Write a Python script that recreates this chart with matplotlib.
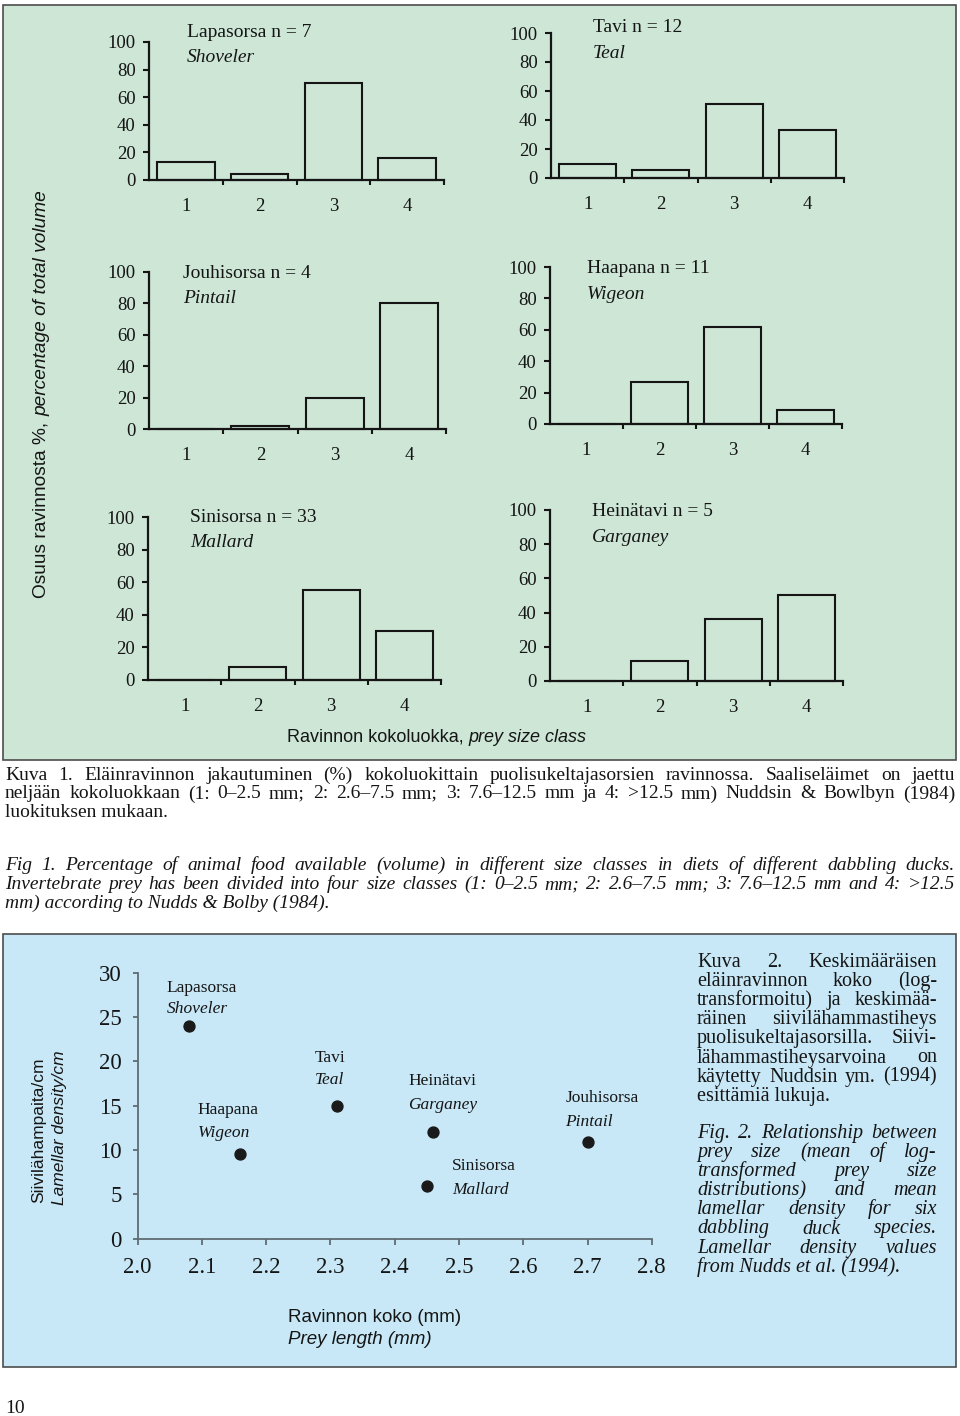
import matplotlib.pyplot as plt
from matplotlib.patches import Rectangle

plt.rcParams['font.family'] = ['Liberation Serif', 'DejaVu Serif']

W, H = 960, 1416

# Fig 1: share of animal food volume (%) in each prey size class
size_classes = [1, 2, 3, 4]
names_fi = ['Lapasorsa', 'Tavi', 'Jouhisorsa', 'Haapana', 'Sinisorsa', 'Heinätavi']
names_en = ['Shoveler', 'Teal', 'Pintail', 'Wigeon', 'Mallard', 'Garganey']
n_birds = [7, 12, 4, 11, 33, 5]
shoveler = [13, 4, 70, 16]
teal = [9.5, 5.5, 51, 33]
pintail = [0, 2, 19.5, 80]
wigeon = [0, 27, 61.5, 9]
mallard = [0, 8, 55, 30]
garganey = [0, 11.5, 36, 50]
volumes = [shoveler, teal, pintail, wigeon, mallard, garganey]

# Fig 2: mean prey size vs lamellar density
dot_fi = ['Lapasorsa', 'Haapana', 'Tavi', 'Heinätavi', 'Sinisorsa', 'Jouhisorsa']
dot_en = ['Shoveler', 'Wigeon', 'Teal', 'Garganey', 'Mallard', 'Pintail']
prey_size = [2.08, 2.16, 2.31, 2.46, 2.45, 2.70]
lamellar_density = [24.0, 9.5, 15.0, 12.0, 5.9, 10.9]
x_ticks = [2.0, 2.1, 2.2, 2.3, 2.4, 2.5, 2.6, 2.7, 2.8]
y_ticks = [0, 5, 10, 15, 20, 25, 30]

caption1_fi = [
    "Kuva 1. Eläinravinnon jakautuminen (%) kokoluokittain puolisukeltajasorsien ravinnossa. Saaliseläimet on jaettu",
    "neljään kokoluokkaan (1: 0–2.5 mm; 2: 2.6–7.5 mm; 3: 7.6–12.5 mm ja 4: >12.5 mm) Nuddsin & Bowlbyn (1984)",
    "luokituksen mukaan.",
]
caption1_en = [
    "Fig 1. Percentage of animal food available (volume) in different size classes in diets of different dabbling ducks.",
    "Invertebrate prey has been divided into four size classes (1: 0–2.5 mm; 2: 2.6–7.5 mm; 3: 7.6–12.5 mm and 4: >12.5",
    "mm) according to Nudds & Bolby (1984).",
]
caption2_fi = [
    "Kuva 2. Keskimääräisen",
    "eläinravinnon koko (log-",
    "transformoitu) ja keskimää-",
    "räinen siivilähammastiheys",
    "puolisukeltajasorsilla. Siivi-",
    "lähammastiheysarvoina on",
    "käytetty Nuddsin ym. (1994)",
    "esittämiä lukuja.",
]
caption2_en = [
    "Fig. 2. Relationship between",
    "prey size (mean of log-",
    "transformed prey size",
    "distributions) and mean",
    "lamellar density for six",
    "dabbling duck species.",
    "Lamellar density values",
    "from Nudds et al. (1994).",
]

GREEN = '#cde6d6'
BLUE = '#c8e8f7'
INK = '#151515'

fig = plt.figure(figsize=(W / 100, H / 100), dpi=100)
renderer = fig.canvas.get_renderer()


def fx(x):
    return x / W


def fy(y):
    return 1 - y / H


def add_axes_px(left, right, top, bottom):
    return fig.add_axes([fx(left), fy(bottom), (right - left) / W, (bottom - top) / H])


def extent(t):
    return t.get_window_extent(renderer)


def space_width(size, family):
    a = fig.text(0, 0, 'a a', fontsize=size, family=family)
    b = fig.text(0, 0, 'aa', fontsize=size, family=family)
    w = extent(a).width - extent(b).width
    a.remove()
    b.remove()
    return w


def run_h(parts, x, y, size, family):
    sw = space_width(size, family)
    for s, style in parts:
        t = fig.text(fx(x), fy(y), s, fontsize=size, family=family, style=style,
                     va='baseline', ha='left', color=INK)
        x += extent(t).width + sw


def run_v(parts, x, y, size, family):
    sw = space_width(size, family)
    for s, style in parts:
        t = fig.text(fx(x), fy(y), s, fontsize=size, family=family, style=style,
                     rotation=90, rotation_mode='anchor', ha='left', va='baseline', color=INK)
        y -= extent(t).height + sw


def justified(lines, x0, x1, y0, step, size, style='normal', family='Liberation Serif'):
    for i, line in enumerate(lines):
        y = y0 + i * step
        if i == len(lines) - 1:
            fig.text(fx(x0), fy(y), line, fontsize=size, style=style, family=family,
                     va='baseline', color=INK)
            continue
        words = line.split()
        arts = [fig.text(0, fy(y), w, fontsize=size, style=style, family=family,
                         va='baseline', color=INK) for w in words]
        widths = [extent(a).width for a in arts]
        gap = (x1 - x0 - sum(widths)) / (len(words) - 1)
        x = x0
        for a, w in zip(arts, widths):
            a.set_x(fx(x))
            x += w + gap


# panel backgrounds
fig.add_artist(Rectangle((fx(3), fy(760)), 953 / W, 755 / H, transform=fig.transFigure,
                         facecolor=GREEN, edgecolor='#4d4d4d', linewidth=1.2, zorder=-2))
fig.add_artist(Rectangle((fx(3), fy(1367)), 953 / W, 433 / H, transform=fig.transFigure,
                         facecolor=BLUE, edgecolor='#4d4d4d', linewidth=1.2, zorder=-2))

# ---- Fig 1 bar panels
panel_box = [(149, 444, 42, 180), (551, 844, 33, 178),
             (149, 446, 272, 429), (550, 842, 267, 424),
             (148, 441, 517, 680), (550, 843, 510, 681)]
title_pos = [(187, 37, 62), (593, 32, 58), (183, 278, 303),
             (587, 273, 299), (190, 522, 547), (592, 516, 542)]

for vals, fi, en, n, box, (tx, ty, sy) in zip(volumes, names_fi, names_en, n_birds,
                                              panel_box, title_pos):
    ax = add_axes_px(*box)
    ax.set_facecolor('none')
    ax.bar(size_classes, vals, width=0.78, facecolor='none', edgecolor=INK,
           linewidth=1.5, clip_on=False)
    ax.set_xlim(0.5, 4.5)
    ax.set_ylim(0, 100)
    ax.spines[['top', 'right']].set_visible(False)
    for s in ['left', 'bottom']:
        ax.spines[s].set_linewidth(1.6)
        ax.spines[s].set_color(INK)
    ax.set_yticks(range(0, 101, 20))
    ax.set_xticks(size_classes)
    ax.set_xticks([1.5, 2.5, 3.5, 4.5], minor=True)
    ax.tick_params(axis='x', which='major', length=0, pad=13, labelsize=13.5, labelcolor=INK)
    ax.tick_params(axis='x', which='minor', length=3.5, width=1.5, color=INK)
    ax.tick_params(axis='y', length=4.5, width=1.5, pad=5, labelsize=13.5,
                   color=INK, labelcolor=INK)
    fig.text(fx(tx), fy(ty), f'{fi} n = {n}', fontsize=14, va='baseline', color=INK)
    fig.text(fx(tx), fy(sy), en, fontsize=14, style='italic', va='baseline', color=INK)

run_v([('Osuus ravinnosta %,', 'normal'), ('percentage of total volume', 'italic')],
      46, 598, 13.8, 'Liberation Sans')
run_h([('Ravinnon kokoluokka,', 'normal'), ('prey size class', 'italic')],
      287, 742, 13, 'Liberation Sans')

# ---- Fig 1 caption
justified(caption1_fi, 5, 955, 780, 18.5, 14)
justified(caption1_en, 5, 955, 870, 19, 14, style='italic')

# ---- Fig 2 scatter
ax = add_axes_px(137.5, 651.8, 972.7, 1238.7)
ax.set_facecolor('none')
ax.scatter(prey_size, lamellar_density, s=62, color='#1a1a1a', zorder=3, clip_on=False)
label_offsets = [(-22, 38, 17), (-43, 44, 21), (-22, 48, 26),
                 (-25, 51, 27), (25, 20, -4), (-22, 44, 20)]
for x, y, fi, en, (dx, d1, d2) in zip(prey_size, lamellar_density, dot_fi, dot_en, label_offsets):
    ax.annotate(fi, (x, y), xytext=(dx, d1), textcoords='offset pixels',
                va='center', ha='left', fontsize=12.5, color=INK)
    ax.annotate(en, (x, y), xytext=(dx, d2), textcoords='offset pixels',
                va='center', ha='left', fontsize=12.5, style='italic', color=INK)
ax.set_xlim(2.0, 2.8)
ax.set_ylim(0, 30)
ax.set_xticks(x_ticks)
ax.set_xticklabels([f'{v:.1f}' for v in x_ticks])
ax.set_yticks(y_ticks)
ax.spines[['top', 'right']].set_visible(False)
for s in ['left', 'bottom']:
    ax.spines[s].set_linewidth(1.3)
    ax.spines[s].set_color('#5f6b75')
ax.tick_params(axis='x', length=4.5, width=1.3, pad=9, labelsize=16.5,
               color='#5f6b75', labelcolor=INK)
ax.tick_params(axis='y', length=3.5, width=1.3, pad=8, labelsize=16.5,
               color='#5f6b75', labelcolor=INK)

run_v([('Siivilähampaita/cm', 'normal')], 43, 1203, 12.5, 'Liberation Sans')
run_v([('Lamellar density/cm', 'italic')], 64, 1205, 12.5, 'Liberation Sans')
fig.text(fx(288), fy(1317), 'Ravinnon koko (mm)', fontsize=13.5, family='Liberation Sans',
         va='center', color=INK)
fig.text(fx(288), fy(1340), 'Prey length (mm)', fontsize=13.5, family='Liberation Sans',
         style='italic', va='center', color=INK)

# ---- Fig 2 caption
justified(caption2_fi, 697, 937, 967, 19.1, 14.5)
justified(caption2_en, 697, 937, 1138, 19.1, 14.5, style='italic')

fig.text(fx(5), fy(1413), '10', fontsize=14, va='baseline', color=INK)

fig.savefig('out.png', dpi=100, facecolor='white')
